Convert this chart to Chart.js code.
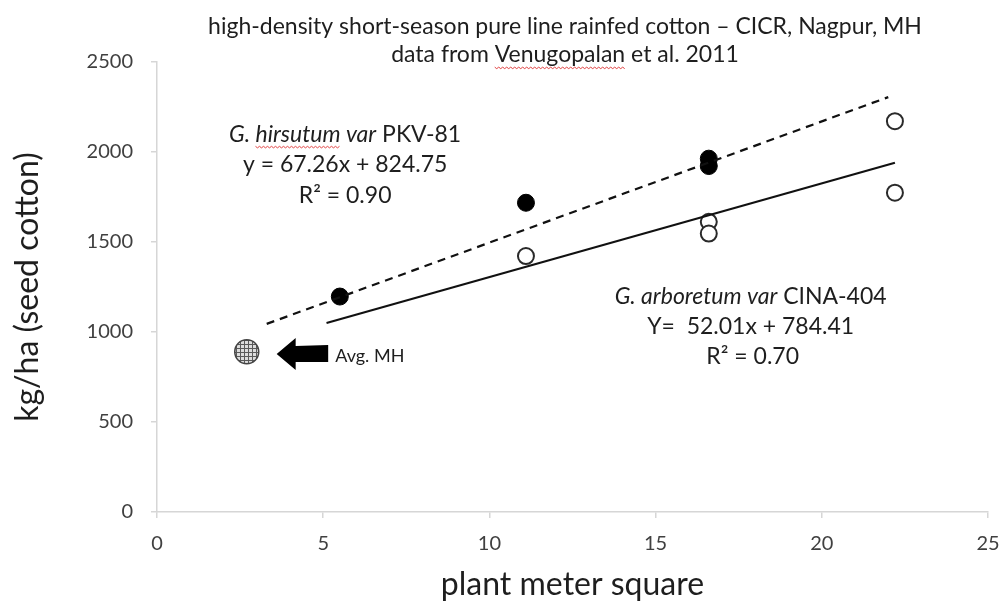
<!DOCTYPE html>
<html>
<head>
<meta charset="utf-8">
<script src="https://cdn.jsdelivr.net/npm/chart.js@4.4.0/dist/chart.umd.min.js"></script>
<style>
    html, body { margin: 0; padding: 0; background: #fff; }
    #wrap { width: 1005px; height: 607px; }
</style>
</head>
<body>
<div id="wrap"><canvas id="chart" width="1005" height="607"></canvas></div>
<script>
// G. hirsutum var PKV-81 (filled dots)
const hirsutumX = [5.5, 11.1, 16.6, 16.6];
const hirsutumY = [1197, 1718, 1963, 1922];
// G. arboretum var CINA-404 (open circles)
const arboreumX = [11.1, 16.6, 16.6, 22.2, 22.2];
const arboreumY = [1422, 1612, 1547, 2171, 1774];
// state average
const avgX = [2.7];
const avgY = [890];
// trend lines, end points
const hirsutumTrendX = [3.3, 22.0];
const hirsutumTrendY = [1045, 2305];
const arboreumTrendX = [5.1, 22.2];
const arboreumTrendY = [1050, 1940];
// arrow pointing at the average
const arrowX = [3.6, 5.15];
const arrowY = [878, 878];

const xTicks = [0, 5, 10, 15, 20, 25];
const yTicks = [0, 500, 1000, 1500, 2000, 2500];

const titleLines = [
    [{ t: 'high-density short-season pure line rainfed cotton \u2013 CICR, Nagpur, MH' }],
    [{ t: 'data from ' }, { t: 'Venugopalan', wavy: true }, { t: ' et al. 2011' }]
];

const toPoints = (xs, ys) => xs.map((x, i) => ({ x: x, y: ys[i] }));

// grey mesh used for the average marker
const makeMesh = () => {
    const c = document.createElement('canvas');
    c.width = 4;
    c.height = 4;
    const g = c.getContext('2d');
    g.fillStyle = '#dcdcdc';
    g.fillRect(0, 0, 4, 4);
    g.fillStyle = '#5a5a5a';
    g.fillRect(0, 0, 4, 1);
    g.fillRect(0, 0, 1, 4);
    return document.getElementById('chart').getContext('2d').createPattern(c, 'repeat');
};

// draws a line of mixed italic / plain text centred on cx
const drawRich = (ctx, parts, cx, cy, size) => {
    const fontOf = (p) => (p.italic ? 'italic ' : '') + size + 'px Lato';
    let total = 0;
    parts.forEach(p => {
        ctx.font = fontOf(p);
        total += ctx.measureText(p.t).width;
    });
    let x = cx - total / 2;
    ctx.textBaseline = 'middle';
    ctx.textAlign = 'left';
    parts.forEach(p => {
        ctx.font = fontOf(p);
        const w = ctx.measureText(p.t).width;
        ctx.fillStyle = '#1e1e1e';
        ctx.fillText(p.t, x, cy);
        if (p.wavy) {
            // spell-check squiggle
            ctx.save();
            ctx.strokeStyle = '#e04040';
            ctx.lineWidth = 1;
            ctx.beginPath();
            const yb = cy + size * 0.55;
            for (let i = 0; i <= w; i += 2) {
                const yy = yb + ((i / 2) % 2 ? 1 : -0.5);
                if (i === 0) ctx.moveTo(x + i, yy); else ctx.lineTo(x + i, yy);
            }
            ctx.stroke();
            ctx.restore();
        }
        x += w;
    });
};

const notesPlugin = {
    id: 'notes',
    afterDatasetsDraw(chart) {
        const { ctx, scales: { x, y } } = chart;
        ctx.save();

        // titles above the plot
        const mid = 565;
        drawRich(ctx, titleLines[0], mid, 27, 23);
        drawRich(ctx, titleLines[1], mid, 55, 23);

        // equation blocks, anchored in data space
        const hx = x.getPixelForValue(5.66);
        drawRich(ctx, [{ t: 'G. ', italic: true }, { t: 'hirsutum', italic: true, wavy: true }, { t: ' var', italic: true }, { t: ' PKV-81' }], hx, y.getPixelForValue(2099), 23);
        drawRich(ctx, [{ t: 'y = 67.26x + 824.75' }], hx, y.getPixelForValue(1932), 23);
        drawRich(ctx, [{ t: 'R\u00b2 = 0.90' }], hx, y.getPixelForValue(1759), 23);

        const ax = x.getPixelForValue(17.86);
        drawRich(ctx, [{ t: 'G. arboretum var', italic: true }, { t: ' CINA-404' }], ax, y.getPixelForValue(1197), 23);
        drawRich(ctx, [{ t: 'Y=  52.01x + 784.41' }], ax, y.getPixelForValue(1030), 23);
        drawRich(ctx, [{ t: 'R\u00b2 = 0.70' }], ax + 2, y.getPixelForValue(863), 23);

        // arrow + label for the state average
        const tipX = x.getPixelForValue(arrowX[0]);
        const tailX = x.getPixelForValue(arrowX[1]);
        const ay = y.getPixelForValue(arrowY[0]);
        ctx.fillStyle = '#000';
        ctx.beginPath();
        ctx.moveTo(tipX, ay);
        ctx.lineTo(tipX + 19, ay - 16);
        ctx.lineTo(tipX + 19, ay - 8);
        ctx.lineTo(tailX, ay - 9);
        ctx.lineTo(tailX, ay + 8);
        ctx.lineTo(tipX + 19, ay + 8);
        ctx.lineTo(tipX + 19, ay + 16);
        ctx.closePath();
        ctx.fill();

        ctx.font = '18px Lato';
        ctx.textAlign = 'left';
        ctx.textBaseline = 'middle';
        ctx.fillStyle = '#1e1e1e';
        ctx.fillText('Avg. MH', x.getPixelForValue(5.36), y.getPixelForValue(863));

        ctx.restore();
    }
};

const tickFont = { family: 'Lato', size: 20 };
const axisGrid = { display: true, drawOnChartArea: false, color: '#d6d6d6', tickLength: 6, lineWidth: 1.5 };

new Chart(document.getElementById('chart'), {
    type: 'scatter',
    data: {
        datasets: [
            {
                label: 'PKV-81 trend',
                data: toPoints(hirsutumTrendX, hirsutumTrendY),
                showLine: true,
                borderColor: '#111',
                borderWidth: 2.2,
                borderDash: [8, 6],
                pointRadius: 0
            },
            {
                label: 'CINA-404 trend',
                data: toPoints(arboreumTrendX, arboreumTrendY),
                showLine: true,
                borderColor: '#111',
                borderWidth: 2.2,
                pointRadius: 0
            },
            {
                label: 'G. hirsutum var PKV-81',
                data: toPoints(hirsutumX, hirsutumY),
                backgroundColor: '#000',
                borderColor: '#000',
                borderWidth: 1,
                pointRadius: 8.5
            },
            {
                label: 'G. arboretum var CINA-404',
                data: toPoints(arboreumX, arboreumY),
                backgroundColor: '#fff',
                borderColor: '#2a2a2a',
                borderWidth: 2,
                pointRadius: 8
            },
            {
                label: 'Avg. MH',
                data: toPoints(avgX, avgY),
                backgroundColor: makeMesh(),
                borderColor: '#444',
                borderWidth: 1.5,
                pointRadius: 12
            }
        ]
    },
    options: {
        responsive: false,
        animation: false,
        layout: { padding: { top: 62, right: 17, left: 0, bottom: 0 } },
        plugins: {
            legend: { display: false },
            tooltip: { enabled: false }
        },
        scales: {
            x: {
                type: 'linear',
                min: 0,
                max: 25,
                afterBuildTicks: (scale) => { scale.ticks = xTicks.map(v => ({ value: v })); },
                ticks: { font: tickFont, color: '#404040', padding: 14, callback: (v) => String(v) },
                grid: axisGrid,
                border: { color: '#d6d6d6', width: 1.5 },
                title: {
                    display: true,
                    text: 'plant meter square',
                    font: { family: 'Lato', size: 32 },
                    color: '#1e1e1e',
                    padding: { top: 0, bottom: 3 }
                },
                afterFit: (scale) => {
                    scale.height = 95;
                    // let the layout padding alone decide the right edge
                    scale.paddingLeft = 0;
                    scale.paddingRight = 0;
                }
            },
            y: {
                type: 'linear',
                min: 0,
                max: 2500,
                afterBuildTicks: (scale) => { scale.ticks = yTicks.map(v => ({ value: v })); },
                ticks: { font: tickFont, color: '#404040', padding: 18, callback: (v) => String(v) },
                grid: axisGrid,
                border: { color: '#d6d6d6', width: 1.5 },
                title: {
                    display: true,
                    text: 'kg/ha (seed cotton)',
                    font: { family: 'Lato', size: 32 },
                    color: '#1e1e1e',
                    padding: { top: 8, bottom: 0 }
                },
                afterFit: (scale) => { scale.width = 157; }
            }
        }
    },
    plugins: [notesPlugin]
});
</script>
</body>
</html>
